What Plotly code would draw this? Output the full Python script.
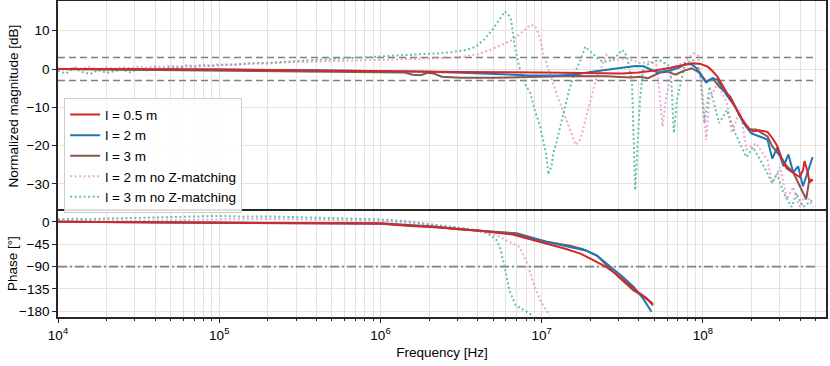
import plotly.graph_objects as go
from plotly.subplots import make_subplots

# ---------------- data ----------------
# magnitude, l = 0.5 m
red_mag_f = [1.0e4, 3.16e4, 1.0e5, 3.16e5, 1.0e6, 3.16e6, 1.0e7, 1.585e7, 2.512e7, 3.162e7,
             3.981e7, 5.012e7, 6.31e7, 7.413e7, 8.511e7, 9.55e7, 1.072e8, 1.148e8, 1.23e8,
             1.318e8, 1.413e8, 1.622e8, 1.862e8, 2.042e8, 2.239e8, 2.512e8, 2.692e8, 2.884e8,
             3.09e8, 3.311e8, 3.631e8, 3.981e8, 4.169e8, 4.266e8, 4.467e8, 4.571e8, 4.786e8]
red_mag = [0.0, -0.05, -0.15, -0.35, -0.6, -0.8, -0.9, -1.0, -1.1, -1.2,
           -0.9, -0.4, 0.3, 0.9, 1.5, 1.4, 0.6, -0.6, -2.0,
           -4.2, -6.3, -10.8, -15.0, -16.3, -16.0, -16.4, -18.0, -20.0,
           -23.5, -26.0, -27.0, -28.2, -26.5, -24.0, -27.0, -29.6, -28.8]

# magnitude, l = 2 m
blue_mag_f = [1.0e4, 3.16e4, 1.0e5, 3.16e5, 1.0e6, 2.0e6, 3.16e6, 5.01e6, 7.94e6, 1.26e7,
              1.585e7, 2.0e7, 2.512e7, 3.162e7, 3.802e7, 4.266e7, 4.898e7, 5.248e7, 5.754e7,
              6.31e7, 7.079e7, 7.762e7, 8.511e7, 9.12e7, 9.772e7, 1.047e8, 1.148e8, 1.23e8,
              1.318e8, 1.413e8, 1.585e8, 1.778e8, 1.995e8, 2.239e8, 2.512e8, 2.692e8, 2.884e8,
              3.162e8, 3.388e8, 3.631e8, 3.89e8, 4.169e8, 4.467e8, 4.786e8]
blue_mag = [0.0, 0.0, -0.1, -0.3, -0.5, -0.7, -1.0, -1.3, -1.6, -1.7,
            -1.5, -0.8, -0.2, 0.4, 0.8, 0.7, -0.3, -0.9, -0.6,
            -0.3, 0.3, 1.3, 1.2, 0.2, -1.8, -3.5, -2.4, -2.8,
            -5.0, -7.0, -9.8, -14.0, -16.8, -17.5, -18.4, -23.4, -20.5,
            -25.4, -22.3, -27.0, -25.4, -30.6, -27.0, -23.0]

# magnitude, l = 3 m
brown_mag_f = [1.0e4, 3.16e4, 1.0e5, 3.16e5, 1.0e6, 1.413e6, 1.585e6, 1.778e6, 1.95e6, 2.138e6,
               2.399e6, 3.162e6, 5.012e6, 7.943e6, 1.0e7, 1.585e7, 2.512e7, 3.548e7, 4.074e7,
               4.571e7, 5.012e7, 5.37e7, 6.026e7, 6.761e7, 7.586e7, 8.511e7, 9.55e7, 1.047e8,
               1.148e8, 1.259e8, 1.479e8, 1.698e8, 1.95e8, 2.138e8, 2.512e8, 2.692e8, 3.02e8,
               3.311e8, 3.631e8, 3.981e8, 4.365e8, 4.571e8, 4.786e8]
brown_mag = [0.0, -0.2, -0.4, -0.6, -0.7, -0.9, -1.5, -1.6, -1.0, -1.2,
             -2.0, -2.3, -2.3, -2.2, -2.0, -1.8, -1.9, -2.2, -2.0,
             -2.4, -1.6, -1.0, -0.7, -1.5, -0.5, 0.2, -1.0, -3.3,
             -2.4, -4.6, -7.2, -12.4, -15.8, -15.8, -17.6, -20.2, -22.8,
             -25.4, -27.0, -30.6, -34.0, -28.8, -29.3]

# magnitude, l = 2 m no Z-matching
pink_mag_f = [1.0e4, 1.12e4, 1.26e4, 1.41e4, 1.58e4, 1.78e4, 2.0e4, 2.24e4, 2.51e4, 2.82e4,
              3.16e4, 3.55e4, 3.98e4, 4.47e4, 5.01e4, 5.62e4, 6.31e4, 7.08e4, 7.94e4, 8.91e4,
              1.0e5, 1.26e5, 1.58e5, 2.0e5, 2.51e5, 3.16e5, 3.98e5, 5.01e5, 6.31e5, 7.94e5,
              1.0e6, 1.41e6, 2.0e6, 2.69e6, 3.16e6, 3.98e6, 4.79e6, 5.62e6, 6.61e6, 7.41e6,
              8.13e6, 8.51e6, 9.12e6, 9.77e6, 1.02e7, 1.1e7, 1.17e7, 1.26e7, 1.35e7, 1.45e7,
              1.55e7, 1.62e7, 1.7e7, 1.78e7, 1.9e7, 2.0e7, 2.1e7, 2.19e7, 2.29e7, 2.51e7,
              2.75e7, 3.39e7, 4.07e7, 4.68e7, 5.13e7, 5.37e7, 5.62e7, 5.89e7, 6.46e7, 7.59e7,
              8.71e7, 9.33e7, 1.0e8, 1.047e8, 1.096e8, 1.23e8, 1.41e8, 1.51e8, 1.7e8, 1.86e8,
              2.14e8, 2.51e8, 2.69e8, 3.02e8, 3.31e8, 3.63e8, 3.98e8, 4.37e8, 4.79e8]
pink_mag = [0.2, -0.3, 0.5, 0.0, 0.6, -0.2, 0.4, 0.1, 0.5, 0.2,
            0.7, 0.3, 0.8, 0.5, 0.9, 0.6, 1.0, 0.8, 1.1, 0.9,
            1.2, 1.1, 1.4, 1.4, 1.7, 1.8, 1.9, 2.0, 2.1, 2.2,
            2.4, 2.6, 2.7, 2.9, 3.2, 3.8, 5.0, 6.3, 7.6, 9.3,
            10.8, 11.5, 11.2, 8.0, 4.2, 0.0, -3.7, -7.5, -10.7, -14.3,
            -17.7, -19.8, -19.0, -16.7, -12.0, -8.1, -4.5, -2.0, -0.7, 3.7,
            2.3, 2.8, 1.5, 1.9, 1.2, -6.0, -15.0, -8.0, 0.6, 1.5,
            4.1, 3.5, -7.2, -18.5, -8.0, -3.7, -9.0, -16.7, -10.7, -21.0,
            -19.4, -23.8, -29.8, -25.6, -34.0, -30.8, -36.0, -32.4, -36.0]

# magnitude, l = 3 m no Z-matching
green_mag_f = [1.0e4, 1.12e4, 1.26e4, 1.41e4, 1.58e4, 1.78e4, 2.0e4, 2.24e4, 2.51e4, 2.82e4,
               3.16e4, 3.55e4, 3.98e4, 4.47e4, 5.01e4, 5.62e4, 6.31e4, 7.08e4, 7.94e4, 8.91e4,
               1.0e5, 1.26e5, 1.58e5, 2.0e5, 2.51e5, 3.16e5, 3.98e5, 5.01e5, 6.31e5, 7.94e5,
               1.0e6, 1.32e6, 1.78e6, 2.29e6, 2.75e6, 3.4e6, 3.9e6, 4.37e6, 4.9e6, 5.25e6,
               5.6e6, 5.9e6, 6.2e6, 6.46e6, 6.8e6, 7.24e6, 7.9e6, 8.5e6, 9.1e6, 9.77e6,
               1.05e7, 1.07e7, 1.1e7, 1.12e7, 1.15e7, 1.18e7, 1.23e7, 1.35e7, 1.48e7, 1.6e7,
               1.74e7, 1.86e7, 2.09e7, 2.29e7, 2.4e7, 2.75e7, 3.16e7, 3.39e7, 3.63e7, 3.8e7,
               4.07e7, 4.27e7, 4.9e7, 5.37e7, 6.3e7, 6.6e7, 6.9e7, 7.76e7, 8.7e7, 9.55e7,
               1.02e8, 1.1e8, 1.26e8, 1.41e8, 1.58e8, 1.86e8, 2.04e8, 2.4e8, 2.69e8, 2.88e8,
               3.16e8, 3.55e8, 3.8e8, 4.17e8, 4.79e8]
green_mag = [-0.5, -1.2, 0.3, -0.8, -1.3, -0.3, -1.0, -0.5, -0.2, -0.9,
             0.1, -0.4, 0.3, 0.0, 0.5, 0.3, 0.7, 0.6, 0.9, 0.8,
             1.0, 1.2, 1.5, 1.6, 1.9, 2.2, 2.4, 2.6, 2.8, 3.0,
             3.2, 3.5, 3.8, 4.1, 4.4, 5.0, 5.8, 7.6, 10.0, 11.9,
             13.8, 15.0, 14.2, 12.8, 6.0, 0.6, -4.0, -6.3, -11.0, -15.0,
             -21.0, -22.9, -27.5, -26.4, -25.5, -22.0, -19.3, -12.5, -5.5, -1.0,
             2.3, 5.8, 3.7, 2.3, 1.9, 2.3, 5.0, 3.2, -3.7, -31.6,
             -8.1, 0.6, 1.9, 2.3, 0.6, -16.7, -8.1, 1.5, 2.3, -0.3,
             -14.1, -4.6, -14.1, -10.7, -16.7, -23.0, -20.4, -25.6, -29.8, -27.2,
             -32.4, -36.0, -32.4, -36.0, -34.2]

# phase
red_ph_f = [1.0e4, 3.16e4, 1.0e5, 3.16e5, 1.0e6, 1.95e6, 4.17e6, 6.6e6, 1.07e7, 1.4e7,
            1.74e7, 2.1e7, 2.51e7, 2.95e7, 3.39e7, 3.9e7, 4.47e7, 4.9e7]
red_ph = [0.0, -0.5, -1.5, -2.5, -3.5, -10.0, -18.0, -25.5, -43.6, -54.0,
          -63.8, -77.0, -90.6, -107.0, -124.0, -140.0, -154.0, -168.0]

blue_ph_f = [1.0e4, 1.0e5, 1.0e6, 2.0e6, 4.0e6, 6.6e6, 1.07e7, 1.5e7, 1.9e7, 2.2e7,
             2.4e7, 2.75e7, 3.16e7, 3.72e7, 4.27e7, 4.79e7]
blue_ph = [0.0, -1.0, -3.0, -9.0, -17.0, -24.0, -40.0, -50.0, -58.0, -68.0,
           -78.0, -94.0, -110.0, -131.0, -155.0, -181.0]

brown_ph_f = [1.0e4, 1.0e5, 1.0e6, 1.6e6, 2.2e6, 3.0e6, 5.0e6, 7.0e6, 1.07e7, 1.5e7,
              1.8e7, 2.2e7, 3.0e7, 3.4e7, 3.7e7, 4.2e7, 4.9e7]
brown_ph = [0.0, -2.0, -4.0, -9.0, -10.0, -15.0, -20.0, -23.0, -40.0, -48.0,
            -55.0, -68.0, -111.0, -126.0, -138.0, -148.0, -165.0]

pink_ph_f = [1.0e4, 1.26e4, 1.58e4, 2.0e4, 3.16e4, 5.0e4, 1.0e5, 2.0e5, 5.0e5, 1.0e6,
             2.0e6, 3.0e6, 4.5e6, 5.5e6, 6.0e6, 7.24e6, 7.6e6, 8.13e6, 8.9e6, 9.8e6,
             1.05e7, 1.12e7]
pink_ph = [0.5, 2.5, 1.0, 3.0, 2.0, 3.5, 5.0, 6.0, 4.0, 2.0,
           -5.0, -12.0, -22.0, -30.0, -37.0, -50.0, -62.0, -84.0, -124.0, -158.0,
           -175.0, -188.0]

green_ph_f = [1.0e4, 1.26e4, 1.58e4, 2.0e4, 3.16e4, 5.0e4, 7.0e4, 1.0e5, 1.4e5, 2.0e5,
              3.0e5, 5.0e5, 1.0e6, 1.5e6, 2.0e6, 3.0e6, 4.0e6, 4.6e6, 5.2e6, 5.5e6,
              5.9e6, 6.3e6, 6.9e6, 8.1e6, 8.7e6]
green_ph = [5.0, 6.5, 5.0, 7.0, 8.0, 10.0, 11.0, 12.0, 10.5, 11.0,
            9.5, 8.0, 5.0, 1.0, -5.0, -11.0, -17.0, -23.0, -35.0, -50.0,
            -91.0, -138.0, -168.0, -181.0, -188.0]

f_span = [1.0e4, 5.0e8]
mag_tol_db = [3.0, -3.0]
phase_ref_deg = -90.0

x_tickvals = [1e4, 1e5, 1e6, 1e7, 1e8]
x_ticktext = ["10<sup>4</sup>", "10<sup>5</sup>", "10<sup>6</sup>", "10<sup>7</sup>", "10<sup>8</sup>"]
mag_tickvals = [10, 0, -10, -20, -30]
phase_tickvals = [0, -45, -90, -135, -180]

# ---------------- figure ----------------
FONT = "Liberation Sans, Arial, sans-serif"
FS = 13.5
RED, BLUE, BROWN = "#d62728", "#1f77b4", "#8c564b"
PINK, GREEN = "rgba(227,119,194,0.65)", "#66c2a5"
GRID = "#e3e3e3"
AX = "#262626"
TOP_FRAC = 0.665

fig = make_subplots(rows=2, cols=1, shared_xaxes=True, vertical_spacing=0,
                    row_heights=[TOP_FRAC, 1 - TOP_FRAC])

# reference lines
for v in mag_tol_db:
    fig.add_trace(go.Scatter(x=f_span, y=[v, v], mode="lines", showlegend=False,
                             hoverinfo="skip",
                             line=dict(color="#808080", width=1.6, dash="7px,4px")),
                  row=1, col=1)
fig.add_trace(go.Scatter(x=f_span, y=[phase_ref_deg, phase_ref_deg], mode="lines",
                         showlegend=False, hoverinfo="skip",
                         line=dict(color="#808080", width=1.6, dash="9px,3px,2px,3px")),
              row=2, col=1)

series = [
    ("l = 3 m no Z-matching", green_mag_f, green_mag, green_ph_f, green_ph, GREEN, "2px,2.5px", 5),
    ("l = 2 m no Z-matching", pink_mag_f, pink_mag, pink_ph_f, pink_ph, PINK, "2px,2.5px", 4),
    ("l = 3 m", brown_mag_f, brown_mag, brown_ph_f, brown_ph, BROWN, "solid", 3),
    ("l = 2 m", blue_mag_f, blue_mag, blue_ph_f, blue_ph, BLUE, "solid", 2),
    ("l = 0.5 m", red_mag_f, red_mag, red_ph_f, red_ph, RED, "solid", 1),
]
for name, mf, mv, pf, pv, col, dash, rank in series:
    fig.add_trace(go.Scatter(x=mf, y=mv, mode="lines", name=name, legendgroup=name,
                             legendrank=rank,
                             line=dict(color=col, width=2, dash=dash)),
                  row=1, col=1)
    fig.add_trace(go.Scatter(x=pf, y=pv, mode="lines", name=name, legendgroup=name,
                             showlegend=False,
                             line=dict(color=col, width=2, dash=dash)),
                  row=2, col=1)

xcommon = dict(type="log", range=[4.0, 8.763], showline=True, linecolor=AX,
               linewidth=1.6, showgrid=True, gridcolor=GRID, gridwidth=1,
               zeroline=False, tickvals=x_tickvals, ticktext=x_ticktext, automargin=False,
               minor=dict(dtick="D1", showgrid=True, gridcolor=GRID, gridwidth=1,
                          ticks="outside", ticklen=2.5, tickcolor=AX))
fig.update_xaxes(**xcommon)
fig.update_xaxes(row=1, col=1, ticks="", showticklabels=False, side="top", mirror=False,
                 minor=dict(ticks=""))
fig.update_xaxes(row=2, col=1, ticks="outside", ticklen=4.5, tickwidth=1.2, mirror=True,
                 tickcolor=AX,
                 tickfont=dict(family=FONT, size=FS, color="#000"),
                 title=dict(text="Frequency [Hz]", font=dict(family=FONT, size=FS, color="#000"),
                            standoff=6))

ycommon = dict(showline=True, linecolor=AX, linewidth=1.6, mirror=True,
               showgrid=True, gridcolor=GRID, gridwidth=1, zeroline=False, automargin=False,
               ticks="outside", ticklen=4, tickwidth=1.2, tickcolor=AX,
               tickfont=dict(family=FONT, size=FS, color="#000"))
fig.update_yaxes(**ycommon)
fig.update_yaxes(row=1, col=1, range=[-37.1, 17.75], tickvals=mag_tickvals,
                 title=dict(text="Normalized magnitude [dB]",
                            font=dict(family=FONT, size=FS, color="#000"), standoff=5))
fig.update_yaxes(row=2, col=1, range=[-191.5, 21.6], tickvals=phase_tickvals)

fig.add_annotation(text="Phase [°]", xref="paper", yref="paper", x=0,
                   y=(1 - TOP_FRAC) / 2, xshift=-46, textangle=-90, showarrow=False,
                   xanchor="center", yanchor="middle",
                   font=dict(family=FONT, size=FS, color="#000"))

fig.update_layout(
    width=830, height=366,
    margin=dict(l=58, r=4, t=1, b=49, autoexpand=False),
    paper_bgcolor="white", plot_bgcolor="white",
    font=dict(family=FONT, size=FS, color="#000"),
    legend=dict(x=0.008, y=0.692, xanchor="left", yanchor="top",
                bgcolor="rgba(255,255,255,0.85)", bordercolor="#cccccc", borderwidth=1,
                font=dict(family=FONT, size=13.5, color="#000"), tracegroupgap=0,
                itemwidth=30),
    showlegend=True,
)

fig.write_html("out.html", config={"displayModeBar": False},
               post_script="document.body.style.margin='0';")
